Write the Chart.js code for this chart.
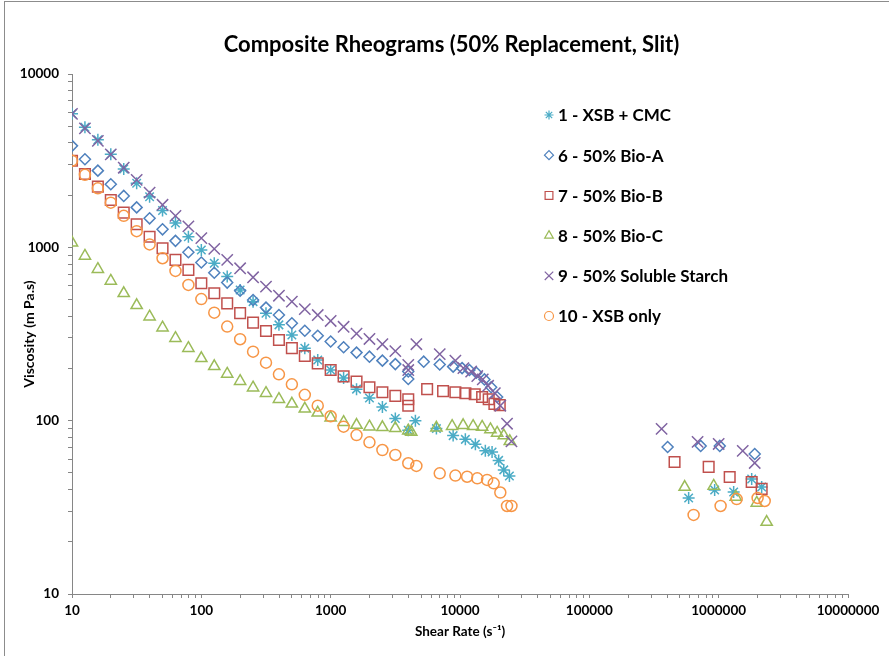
<!DOCTYPE html>
<html>
<head>
<meta charset="utf-8">
<script src="https://cdn.jsdelivr.net/npm/chart.js@4.4.1/dist/chart.umd.min.js"></script>
<style>
html, body { margin: 0; padding: 0; background: #ffffff; }
#wrap { position: relative; width: 889px; height: 656px; overflow: hidden; background: #fff; }
#frame { position: absolute; left: 4px; top: 1px; width: 1000px; height: 1000px;
         border-left: 1px solid #8c8c8c; border-top: 1px solid #8c8c8c; }
#c { position: absolute; left: 0; top: 0; }
</style>
</head>
<body>
<div id="wrap"><div id="frame"></div><canvas id="c" width="889" height="656"></canvas></div>
<script>
// ---------------- data ----------------
const TITLE = 'Composite Rheograms (50% Replacement, Slit)';
const X_TITLE = 'Shear Rate (s\u207B\u00B9)';
const Y_TITLE = 'Viscosity (m Pa.s)';
const X_TICK_LABELS = ['10', '100', '1000', '10000', '100000', '1000000', '10000000'];
const Y_TICK_LABELS = ['10', '100', '1000', '10000'];
const SERIES_NAMES = ['1 - XSB + CMC', '6 - 50% Bio-A', '7 - 50% Bio-B', '8 - 50% Bio-C',
                      '9 - 50% Soluble Starch', '10 - XSB only'];

// capillary shear rates shared by all series (s^-1)
const CAP_RATE = [10, 12.59, 15.85, 19.95, 25.12, 31.62, 39.81, 50.12, 63.1, 79.43,
                  100, 125.9, 158.5, 199.5, 251.2, 316.2, 398.1, 501.2, 631, 794.3,
                  1000, 1259, 1585, 1995, 2512, 3162, 3981];

// 1 - XSB + CMC
const S1_CAP = [5890, 4930, 4170, 3440, 2830, 2340, 1960, 1630, 1380, 1150,
                966, 809, 678, 568, 486, 417, 357, 312, 262, 224,
                196, 176, 152, 135, 120, 103, 88];
const S1_SLIT_RATE = [4520, 6570, 8850, 11000, 13150, 15700, 17700, 19900, 21800, 24100,
                      586000, 931000, 1306000, 1800000, 2150000];
const S1_SLIT = [100, 90, 82, 78, 73, 67, 66, 59, 52, 48,
                 35.8, 39.8, 38.8, 46.1, 41.4];

// 6 - 50% Bio-A
const S6_CAP = [3850, 3220, 2770, 2310, 1980, 1700, 1470, 1270, 1090, 937,
                818, 714, 626, 562, 497, 449, 407, 365, 330, 309,
                286, 265, 247, 234, 222, 212, 192];
const S6_SLIT_RATE = [3981, 5240, 6970, 8850, 10380, 11830, 13390, 15450, 17410, 19370,
                      403000, 726000, 1020000, 1900000];
const S6_SLIT = [174, 219, 211, 205, 201, 196, 189, 173, 156, 137,
                 70.5, 71.5, 71.5, 64.2];

// 7 - 50% Bio-B
const S7_CAP = [3160, 2650, 2240, 1875, 1585, 1360, 1150, 988, 846, 741,
                621, 543, 475, 417, 368, 329, 292, 262, 236, 214,
                196, 180, 168, 156, 146, 139, 133];
const S7_SLIT_RATE = [3981, 5570, 7400, 9210, 11010, 13000, 14830, 16670, 18450, 20290,
                      456000, 837000, 1217000, 1800000, 2150000];
const S7_SLIT = [122, 152, 148, 146, 144, 142, 137, 133, 125, 123,
                 57.8, 54.1, 47.3, 44.3, 40.4];

// 8 - 50% Bio-C
const S8_CAP = [1064, 892, 748, 640, 543, 463, 398, 344, 299, 262,
                229, 206, 186, 169, 155, 144, 133, 125, 117, 111,
                104, 98, 94.4, 92.3, 91.6, 90.4, 87.5];
const S8_SLIT_RATE = [4200, 6570, 8690, 10570, 12630, 14830, 17190, 19370, 21800, 24270,
                      546000, 915000, 1355000, 1970000, 2350000];
const S8_SLIT = [86, 91, 93, 94, 93, 92, 89, 85, 82, 76,
                 41.4, 42.0, 36.3, 33.5, 26.0];

// 9 - 50% Soluble Starch
const S9_CAP = [5890, 4860, 4110, 3440, 2880, 2450, 2070, 1760, 1520, 1320,
                1130, 979, 846, 757, 672, 593, 526, 486, 440, 407,
                376, 348, 318, 296, 276, 252, 210];
const S9_SLIT_RATE = [3981, 4600, 6970, 9210, 10620, 12200, 13600, 15000, 16500, 18600,
                      20500, 23100, 25000,
                      362000, 687000, 1000000, 1535000, 1900000];
const S9_SLIT = [196, 276, 242, 222, 201, 192, 181, 173, 159, 144,
                 122, 96, 76,
                 89.6, 75.4, 73.4, 66.9, 57.0];

// 10 - XSB only
const S10_CAP = [3160, 2620, 2190, 1810, 1520, 1240, 1040, 865, 731, 607,
                 503, 420, 349, 295, 250, 216, 185, 162, 141, 122,
                 106, 92.3, 82.6, 75.0, 67.7, 63.4, 56.8];
const S10_SLIT_RATE = [4600, 6970, 9210, 11350, 13600, 16200, 18230, 20500, 23100, 25000,
                       640000, 1035000, 1378000, 2000000, 2270000];
const S10_SLIT = [54.8, 49.7, 48.2, 47.5, 46.5, 45.5, 43.5, 38.5, 32.2, 32.2,
                  28.6, 32.2, 35.3, 35.8, 34.4];

// ---------------- styling ----------------
const FONT = "Lato, 'Liberation Sans', sans-serif";
const STYLES = [
  { color: '#4BACC6', pointStyle: 'star',     radius: 6,   legendRadius: 4.5 },
  { color: '#4F81BD', pointStyle: 'rectRot',  radius: 5.5, legendRadius: 4.5 },
  { color: '#C0504D', pointStyle: 'rect',     radius: 7.5, legendRadius: 5.5 },
  { color: '#9BBB59', pointStyle: 'triangle', radius: 6.5, legendRadius: 5 },
  { color: '#8064A2', pointStyle: 'crossRot', radius: 8,   legendRadius: 6 },
  { color: '#F79646', pointStyle: 'circle',   radius: 5.5, legendRadius: 4.5 }
];

function pts(cap, slitRate, slit) {
  const a = CAP_RATE.map((x, i) => ({ x: x, y: cap[i] }));
  const b = slitRate.map((x, i) => ({ x: x, y: slit[i] }));
  return a.concat(b);
}
const SERIES_DATA = [
  pts(S1_CAP, S1_SLIT_RATE, S1_SLIT),
  pts(S6_CAP, S6_SLIT_RATE, S6_SLIT),
  pts(S7_CAP, S7_SLIT_RATE, S7_SLIT),
  pts(S8_CAP, S8_SLIT_RATE, S8_SLIT),
  pts(S9_CAP, S9_SLIT_RATE, S9_SLIT),
  pts(S10_CAP, S10_SLIT_RATE, S10_SLIT)
];

const datasets = SERIES_NAMES.map((name, i) => ({
  label: name,
  data: SERIES_DATA[i],
  showLine: false,
  pointStyle: STYLES[i].pointStyle,
  pointRadius: STYLES[i].radius,
  pointHoverRadius: STYLES[i].radius,
  pointBorderWidth: 1.5,
  borderColor: STYLES[i].color,
  backgroundColor: 'rgba(0,0,0,0)',
  pointBackgroundColor: 'rgba(0,0,0,0)',
  order: SERIES_NAMES.length - i
}));

function logTicks(min, max) {
  const t = [];
  for (let e = Math.round(Math.log10(min)); e < Math.round(Math.log10(max)); e++) {
    for (let m = 1; m < 10; m++) t.push({ value: m * Math.pow(10, e) });
  }
  t.push({ value: max });
  return t;
}
function powLabel(labels, v) {
  const l = Math.log10(v);
  if (Math.abs(l - Math.round(l)) < 1e-6) {
    return labels[Math.round(l) - 1] || '';
  }
  return '';
}

const insideLegend = {
  id: 'insideLegend',
  afterDatasetsDraw(chart) {
    const ctx = chart.ctx;
    const area = chart.chartArea;
    const mx = area.left + 477, tx = area.left + 486, y0 = area.top + 41, dy = 40.2;
    ctx.save();
    SERIES_NAMES.forEach((name, i) => {
      const y = y0 + i * dy;
      ctx.strokeStyle = STYLES[i].color;
      ctx.fillStyle = 'rgba(0,0,0,0)';
      ctx.lineWidth = 1.2;
      Chart.helpers.drawPoint(ctx, { pointStyle: STYLES[i].pointStyle, rotation: 0,
        radius: STYLES[i].legendRadius, borderWidth: 1.2 }, mx, y);
      ctx.fillStyle = '#000';
      ctx.font = 'bold 17px ' + FONT;
      ctx.textAlign = 'left';
      ctx.textBaseline = 'middle';
      ctx.fillText(name, tx, y + 1);
    });
    ctx.restore();
  }
};

const AXIS_COLOR = '#868686';
new Chart(document.getElementById('c'), {
  type: 'scatter',
  data: { datasets: datasets },
  plugins: [insideLegend],
  options: {
    responsive: false,
    animation: false,
    devicePixelRatio: 1,
    layout: { padding: { left: 14, right: 0, top: 0, bottom: 0 } },
    plugins: {
      legend: { display: false },
      tooltip: { enabled: false },
      title: {
        display: true, text: TITLE, color: '#000',
        font: { family: FONT, size: 22, weight: 'bold' },
        padding: { top: 32, bottom: 15.6 }
      }
    },
    scales: {
      x: {
        type: 'logarithmic', position: 'bottom', min: 10, max: 10000000,
        afterBuildTicks(s) { s.ticks = logTicks(10, 10000000); },
        afterFit(s) { s.height = 62; },
        grid: { drawOnChartArea: false, drawTicks: true, tickLength: 4, color: AXIS_COLOR },
        border: { display: true, color: AXIS_COLOR, width: 1 },
        ticks: {
          autoSkip: false, maxRotation: 0, minRotation: 0, padding: 5, color: '#000',
          font: { family: FONT, size: 13.5, weight: 'bold' },
          callback: (v) => powLabel(X_TICK_LABELS, v)
        },
        title: {
          display: true, text: X_TITLE, color: '#000',
          font: { family: FONT, size: 13.5, weight: 'bold' },
          padding: { top: 0, bottom: 16 }
        }
      },
      y: {
        type: 'logarithmic', position: 'left', min: 10, max: 10000,
        afterBuildTicks(s) { s.ticks = logTicks(10, 10000); },
        afterFit(s) { s.width = 58; },
        grid: { drawOnChartArea: false, drawTicks: true, tickLength: 4, color: AXIS_COLOR },
        border: { display: true, color: AXIS_COLOR, width: 1 },
        ticks: {
          autoSkip: false, padding: 9, color: '#000',
          font: { family: FONT, size: 13.5, weight: 'bold' },
          callback: (v) => powLabel(Y_TICK_LABELS, v)
        },
        title: {
          display: true, text: Y_TITLE, color: '#000',
          font: { family: FONT, size: 14, weight: 'bold' },
          padding: { top: 7, bottom: 0 }
        }
      },
      spacer: {
        type: 'linear', position: 'right', min: 0, max: 1, display: true,
        afterFit(s) { s.width = 41; },
        grid: { display: false, drawTicks: false },
        border: { display: false },
        ticks: { display: false },
        title: { display: false }
      }
    }
  }
});
</script>
</body>
</html>
